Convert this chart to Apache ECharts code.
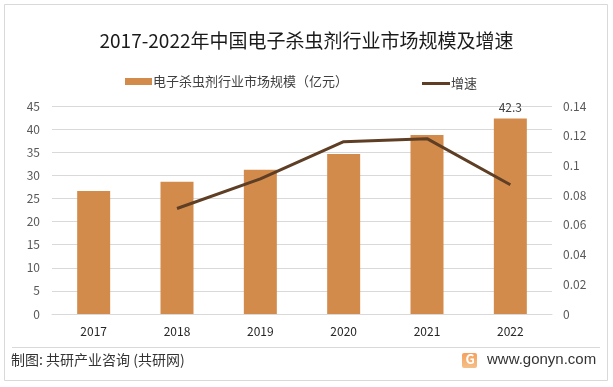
<!DOCTYPE html>
<html><head><meta charset="utf-8">
<script src="https://cdn.jsdelivr.net/npm/echarts@6/dist/echarts.min.js"></script>
<style>html,body{margin:0;padding:0;background:#fff}#c{width:613px;height:387px}</style>
</head><body><div id="c"></div>
<script>
const categories = ['2017','2018','2019','2020','2021','2022'];
const marketSize = [26.6, 28.6, 31.2, 34.6, 38.7, 42.3];
const growthRate = [null, 0.071, 0.091, 0.116, 0.118, 0.087];
const leftTicks = {min:0, max:45, interval:5};
const rightTicks = {min:0, max:0.14, interval:0.02};
const font = '"Noto Sans CJK SC", "Microsoft YaHei", sans-serif';
const chart = echarts.init(document.getElementById('c'));
chart.setOption({
  animation:false,
  backgroundColor:'#fff',
  title:{text:'2017-2022年中国电子杀虫剂行业市场规模及增速', left:'center', top:26,
    textStyle:{fontFamily:font, fontSize:19, fontWeight:'normal', color:'#1a1a1a'}},
  legend:[
    {top:70, left:120, itemWidth:27, itemHeight:7,
     textStyle:{fontFamily:font, fontSize:13, color:'#404040', padding:[0,0,0,-4]},
     data:[{name:'电子杀虫剂行业市场规模（亿元）', icon:'rect'}]},
    {top:72, left:417, itemWidth:28, itemHeight:3,
     textStyle:{fontFamily:font, fontSize:13, color:'#404040', padding:[0,0,0,-4]},
     data:[{name:'增速', icon:'rect'}]}
  ],
  grid:{left:52, right:61, top:106, bottom:73},
  xAxis:{type:'category', data:categories,
    axisLine:{lineStyle:{color:'#d9d9d9'}}, axisTick:{show:false},
    axisLabel:{color:'#262626', fontFamily:font, fontSize:12, margin:11}},
  yAxis:[{type:'value', min:leftTicks.min, max:leftTicks.max, interval:leftTicks.interval,
    axisLine:{show:false}, axisTick:{show:false},
    axisLabel:{color:'#595959', fontFamily:font, fontSize:12, margin:12},
    splitLine:{lineStyle:{color:'#d9d9d9'}}},
   {type:'value', min:rightTicks.min, max:rightTicks.max, interval:rightTicks.interval,
    axisLine:{show:false}, axisTick:{show:false}, splitLine:{show:false},
    axisLabel:{color:'#595959', fontFamily:font, fontSize:12, margin:11,
      formatter:v=>String(+v.toFixed(2))}}],
  series:[
    {name:'电子杀虫剂行业市场规模（亿元）', type:'bar', data:marketSize, barWidth:33,
     itemStyle:{color:'#D38B4C'},
     label:{show:true, position:'top', color:'#404040', fontFamily:font, fontSize:12,
       formatter:p=>p.dataIndex===marketSize.length-1?p.value:''}},
    {name:'增速', type:'line', yAxisIndex:1, data:growthRate, symbol:'none',
     lineStyle:{color:'#5E3E24', width:3}, itemStyle:{color:'#5E3E24'}}
  ],
  graphic:[
    {type:'rect', shape:{x:4.5,y:4.5,width:603,height:376}, style:{fill:'none', stroke:'#d9d9d9', lineWidth:1}},
    {type:'line', shape:{x1:12,y1:347.5,x2:600,y2:347.5}, style:{stroke:'#d9d9d9', lineWidth:1}},
    {type:'text', left:11, top:353, style:{text:'制图: 共研产业咨询 (共研网)', fill:'#333', font:'14px '+font}},
    {type:'rect', shape:{x:462,y:353,width:15,height:15, r:2},
     style:{fill:{type:'linear',x:0,y:0,x2:0,y2:1,colorStops:[{offset:0,color:'#F6A15A'},{offset:1,color:'#F4C089'}]}}},
    {type:'text', left:465.5, top:353, style:{text:'G', fill:'#fff', font:'bold 13px '+font}},
    {type:'text', left:487, top:352, style:{text:'www.gonyn.com', fill:'#333', font:'15px "Liberation Sans", sans-serif'}}
  ]
});
</script></body></html>
